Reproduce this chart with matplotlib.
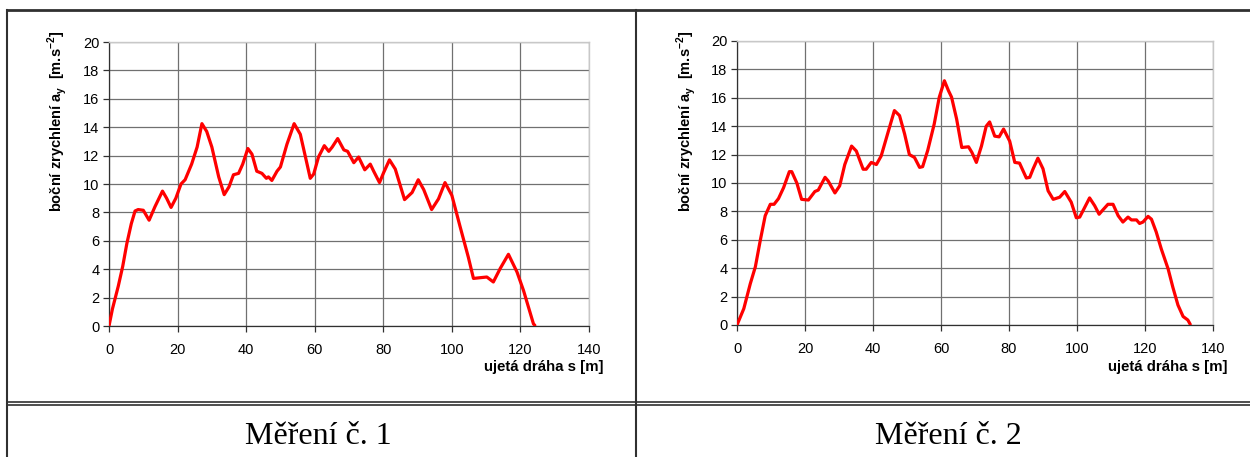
import matplotlib
matplotlib.use('Agg')
import matplotlib.pyplot as plt
from matplotlib.lines import Line2D

plt.rcParams['font.family'] = ['Liberation Sans', 'DejaVu Sans']

# mereni c. 1
s1 = [0, 1, 2.7, 4, 5.2, 6.5, 7.6, 8.5, 10, 11.7, 13.4, 15.6, 16.8, 18.1, 19.5, 21, 22.2, 24.1, 25.7, 27.1,
      28.5, 30, 32, 33.6, 35, 36.3, 37.8, 39, 40.5, 41.7, 43.1, 44.6, 45.9, 46.5, 47.5, 49, 50, 51.9, 54.0, 55.8,
      57.3, 58.7, 59.7, 61.1, 62.8, 64.1, 65.1, 66.7, 68.5, 69.6, 71.4, 72.8, 74.6, 76.2, 77.2, 78.9, 80.1, 81.8,
      83.5, 86.2, 88.4, 90.2, 91.8, 94.1, 96.1, 98.0, 100, 102.4, 104.8, 106.3, 108.2, 110.2, 112.1, 114.1, 116.5,
      119.0, 120.9, 123.8, 124.2]
a1 = [0, 1.2, 2.8, 4.2, 5.8, 7.2, 8.1, 8.2, 8.15, 7.45, 8.4, 9.5, 9.0, 8.35, 9.0, 10.0, 10.3, 11.4, 12.6, 14.25,
      13.7, 12.6, 10.5, 9.25, 9.8, 10.65, 10.75, 11.4, 12.5, 12.1, 10.9, 10.75, 10.4, 10.5, 10.25, 10.9, 11.2, 12.8,
      14.25, 13.5, 11.9, 10.4, 10.7, 11.9, 12.7, 12.3, 12.6, 13.2, 12.4, 12.3, 11.5, 11.9, 11.0, 11.4, 10.9, 10.1,
      10.8, 11.7, 11.05, 8.9, 9.4, 10.3, 9.6, 8.2, 8.95, 10.1, 9.2, 7.0, 4.85, 3.35, 3.4, 3.45, 3.1, 4.05, 5.05,
      3.8, 2.5, 0.15, 0.05]

# mereni c. 2
s2 = [0, 2, 3.9, 5.4, 6.8, 8.3, 9.8, 10.9, 12.2, 13.7, 15.4, 16.1, 17.6, 19, 21, 22.9, 23.9, 25.9, 26.8, 28.8,
      30.2, 31.7, 33.7, 35.1, 37.1, 38, 39.5, 41, 42.4, 44.4, 46.3, 47.8, 49.3, 50.7, 52.2, 53.7, 54.6, 56.1, 58,
      59.5, 61.0, 62.2, 63.1, 64.6, 66.1, 68.1, 69.1, 70.4, 71.9, 73.3, 74.3, 75.8, 77.1, 78.4, 80.2, 81.7, 83.1,
      85.1, 86.1, 87.1, 88.5, 90, 91.5, 93, 94.9, 96.4, 98.3, 99.8, 100.8, 103.7, 105.2, 106.5, 107.6, 109.1,
      110.6, 112.1, 113.5, 115, 116, 117.5, 118.4, 119.4, 120.9, 121.9, 123.3, 124.8, 126.8, 128.2, 129.7, 131.2,
      132.6, 133.3]
a2 = [0, 1.15, 2.9, 4.1, 5.9, 7.7, 8.5, 8.5, 8.9, 9.67, 10.8, 10.8, 10.0, 8.85, 8.8, 9.4, 9.5, 10.4, 10.15, 9.3,
      9.8, 11.3, 12.6, 12.25, 10.97, 10.97, 11.45, 11.3, 11.9, 13.55, 15.1, 14.75, 13.45, 12.0, 11.8, 11.1, 11.15,
      12.3, 14.15, 16.05, 17.2, 16.5, 16.05, 14.5, 12.5, 12.55, 12.15, 11.45, 12.6, 14.0, 14.3, 13.3, 13.25, 13.8,
      12.95, 11.45, 11.4, 10.35, 10.4, 11.0, 11.75, 11.0, 9.45, 8.85, 9.0, 9.4, 8.65, 7.55, 7.6, 8.95, 8.4, 7.8,
      8.1, 8.5, 8.5, 7.7, 7.25, 7.6, 7.4, 7.4, 7.15, 7.25, 7.65, 7.45, 6.55, 5.35, 3.95, 2.65, 1.4, 0.6, 0.35, 0.05]

captions = ['Měření č. 1', 'Měření č. 2']
ylabel = 'boční zrychlení a$_\\mathregular{y}$  [m.s$^\\mathregular{-2}$]'
xlabel = 'ujetá dráha s [m]'

W, H = 1250, 457
fig = plt.figure(figsize=(W / 100, H / 100), dpi=100)


def px(x, y):
    return x / W, 1 - y / H


def chart(left, top, right, bottom, s, a, ylab_x, xlab_x):
    x0, y1 = px(left, top)
    x1, y0 = px(right, bottom)
    ax = fig.add_axes([x0, y0, x1 - x0, y1 - y0])
    ax.plot(s, a, color='#ff0000', lw=2.3, solid_joinstyle='round', solid_capstyle='round', zorder=3)
    ax.set_xlim(0, 140)
    ax.set_ylim(0, 20)
    ax.set_xticks(range(0, 141, 20))
    ax.set_yticks(range(0, 21, 2))
    ax.grid(True, color='#707070', lw=0.9)
    ax.tick_params(direction='out', length=4, width=0.9, color='#303030', labelsize=10.5, pad=3)
    ax.tick_params(axis='x', pad=8)
    for side in ['left', 'bottom']:
        ax.spines[side].set_color('#303030')
        ax.spines[side].set_linewidth(0.9)
    for side in ['top', 'right']:
        ax.spines[side].set_color('#c8c8c8')
        ax.spines[side].set_linewidth(1.0)
    fx, fy = px(ylab_x, 31)
    fig.text(fx, fy, ylabel, rotation=90, ha='center', va='top', fontsize=10.5, fontweight='bold')
    fx, fy = px(xlab_x, 367)
    fig.text(fx, fy, xlabel, ha='right', va='center', fontsize=10.8, fontweight='bold')
    return ax


chart(109, 42, 589, 326, s1, a1, 57, 604)
chart(737, 41, 1213, 325, s2, a2, 686, 1228)

# table frame around the two charts
border = '#303030'
lines = [
    ([7, 1250], [10, 10], 2.0),
    ([7, 7], [10, 457], 1.5),
    ([636, 636], [10, 457], 1.5),
    ([7, 1250], [402, 402], 1.2),
    ([7, 1250], [405, 405], 1.2),
]
for xs, ys, w in lines:
    fig.add_artist(Line2D([x / W for x in xs], [1 - y / H for y in ys], color=border, lw=w))

for cx, cap in zip([318, 948], captions):
    fx, fy = px(cx, 437)
    fig.text(fx, fy, cap, ha='center', va='center', fontsize=23, family='Liberation Serif')

fig.savefig('out.png', dpi=100)
